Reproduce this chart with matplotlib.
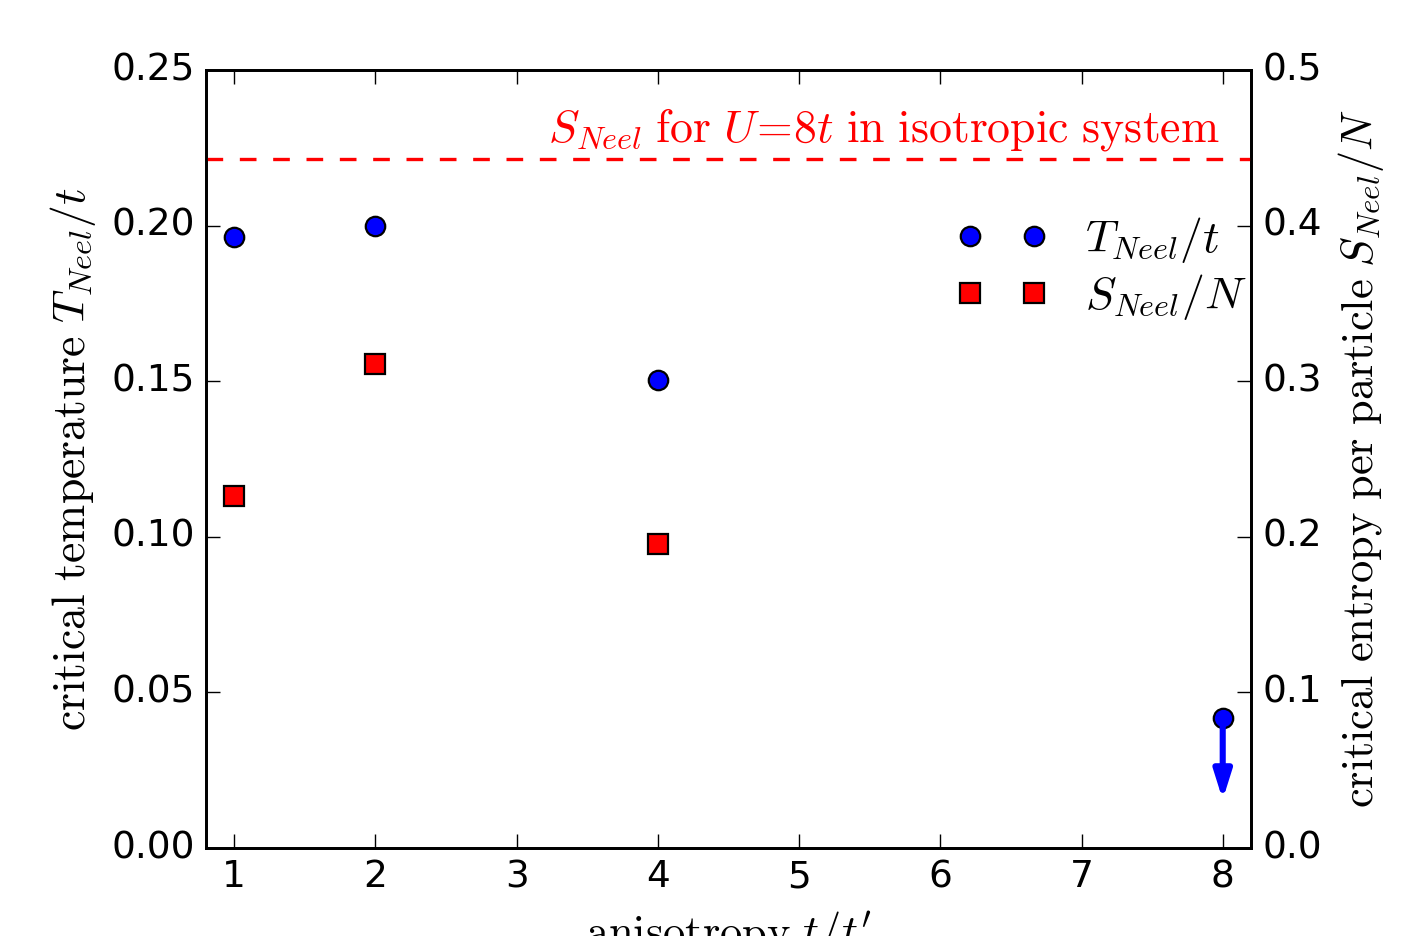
import matplotlib
matplotlib.use('Agg')
import matplotlib.pyplot as plt

plt.style.use('classic')
plt.rcParams['mathtext.fontset'] = 'cm'
plt.rcParams['savefig.facecolor'] = 'white'
plt.rcParams['figure.facecolor'] = 'white'

# data
aniso = [1, 2, 4, 8]
t_neel = [0.1963, 0.1999, 0.1504, 0.0418]
aniso_s = [1, 2, 4]
s_neel = [0.2262, 0.3110, 0.1954]
s_iso = 0.4428          # S_Neel for U=8t in isotropic system (right axis)
arrow_end = 0.0155      # upper bound arrow at t/t'=8

fig = plt.figure(figsize=(7.09, 4.68), dpi=200)
ax = fig.add_axes([0.1453, 0.094, 0.7369, 0.8312])
ax2 = ax.twinx()

l1, = ax.plot(aniso, t_neel, 'o', color='blue', markersize=7, mec='black', mew=0.8)
ax.annotate('', xy=(8, arrow_end), xytext=(8, t_neel[-1]),
            arrowprops=dict(arrowstyle='-|>,head_width=0.22,head_length=0.7',
                            color='blue', lw=2.2, shrinkA=0, shrinkB=0))

l2, = ax2.plot(aniso_s, s_neel, 's', color='red', markersize=7, mec='black', mew=0.8)
ax2.axhline(s_iso, color='red', ls='--', lw=1.2)
ax2.text(7.98, s_iso + 0.004, r'$S_{Neel}\;\mathrm{for}\ U\!=\!8t\ \mathrm{in\ isotropic\ system}$',
         color='red', fontsize=16.5, ha='right', va='bottom')

ax.set_xlim(0.8, 8.2)
ax.set_ylim(0, 0.25)
ax2.set_ylim(0, 0.5)
ax.set_xticks(range(1, 9))
ax.set_yticks([0, 0.05, 0.10, 0.15, 0.20, 0.25])
ax2.set_yticks([0, 0.1, 0.2, 0.3, 0.4, 0.5])
for a in (ax, ax2):
    a.tick_params(labelsize=13.5, length=5, direction='in')

ax.set_xlabel(r"$\mathrm{anisotropy}\ t/t'$", fontsize=16)
ax.set_ylabel(r'$\mathrm{critical\ temperature}\ T_{Neel}/t$', fontsize=16.5)
ax2.set_ylabel(r'$\mathrm{critical\ entropy\ per\ particle}\ S_{Neel}/N$', fontsize=16)

ax2.legend([l1, l2], [r'$T_{Neel}/t$', r'$S_{Neel}/N$'], loc='upper right',
           bbox_to_anchor=(1.035, 0.867), numpoints=2, frameon=False, fontsize=16.5,
           handlelength=2.0, handletextpad=0.8, labelspacing=0.15)

fig.savefig('out.png', dpi=200)
